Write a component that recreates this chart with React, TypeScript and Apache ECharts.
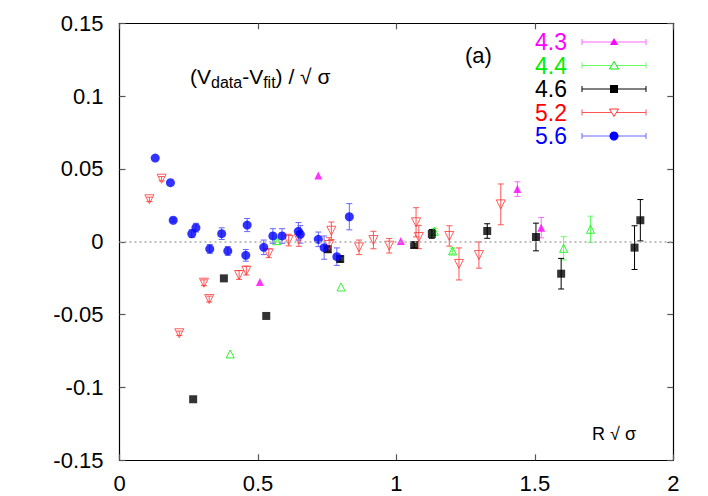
import React, { useEffect, useRef } from "react";
import * as echarts from "echarts";

// [R√σ, (Vdata-Vfit)/√σ, error]
const s43: number[][] = [
  [0.507, -0.0276, 0],
  [0.718, 0.0456, 0],
  [1.016, 0.0005, 0],
  [1.437, 0.0362, 0.005],
  [1.523, 0.0097, 0.007],
];
const s44: number[][] = [
  [0.4, -0.077, 0],
  [0.568, 0.0008, 0.001],
  [0.8, -0.031, 0],
  [1.137, 0.0072, 0.002],
  [1.203, -0.0063, 0.002],
  [1.604, -0.0045, 0.008],
  [1.701, 0.0086, 0.009],
];
const s46: number[][] = [
  [0.266, -0.1081, 0],
  [0.377, -0.0251, 0],
  [0.53, -0.0509, 0],
  [0.752, -0.0051, 0.002],
  [0.797, -0.0118, 0.002],
  [1.064, -0.0022, 0.002],
  [1.128, 0.0054, 0.003],
  [1.328, 0.0074, 0.005],
  [1.504, 0.0033, 0.0095],
  [1.595, -0.0219, 0.0105],
  [1.86, -0.004, 0.015],
  [1.881, 0.0148, 0.0142],
];
const s52: number[][] = [
  [0.108, 0.0292, 0.0015],
  [0.152, 0.0433, 0.0015],
  [0.216, -0.0628, 0.0015],
  [0.305, -0.0281, 0.002],
  [0.324, -0.0393, 0.002],
  [0.432, -0.0228, 0.003],
  [0.458, -0.0198, 0.003],
  [0.539, -0.0079, 0.003],
  [0.611, 0.0012, 0.004],
  [0.648, 0.0019, 0.005],
  [0.757, -0.0022, 0.005],
  [0.765, 0.0076, 0.006],
  [0.865, -0.0038, 0.005],
  [0.917, 0.0012, 0.006],
  [0.974, -0.0027, 0.005],
  [1.071, 0.0134, 0.01],
  [1.081, 0.0033, 0.008],
  [1.191, 0.004, 0.007],
  [1.226, -0.0152, 0.011],
  [1.298, -0.0091, 0.009],
  [1.377, 0.0257, 0.014],
];
const s56: number[][] = [
  [0.129, 0.0575, 0],
  [0.184, 0.0406, 0],
  [0.194, 0.0148, 0.001],
  [0.261, 0.0056, 0.0027],
  [0.276, 0.0097, 0.003],
  [0.326, -0.0049, 0.003],
  [0.369, 0.0056, 0.004],
  [0.391, -0.0063, 0.003],
  [0.461, 0.0115, 0.0045],
  [0.456, -0.0093, 0.004],
  [0.521, -0.0038, 0.005],
  [0.554, 0.004, 0.005],
  [0.587, 0.004, 0.005],
  [0.646, 0.0072, 0.006],
  [0.653, 0.0051, 0.006],
  [0.718, 0.0017, 0.005],
  [0.739, -0.004, 0.008],
  [0.785, -0.0102, 0.006],
  [0.83, 0.0172, 0.009],
];

const legendLabels = ["4.3", "4.4", "4.6", "5.2", "5.6"];
const textColors = ["#ff00ff", "#00ee00", "#000000", "#ff0000", "#0000ff"];
const barColors = ["#ff66ff", "#66ff66", "#000000", "#ff5555", "#6666ff"];

const FONT = "Liberation Sans, Arial, Helvetica, sans-serif";
const invTri = "path://M0,0 L10,0 L5,9 Z";

export default function App() {
  const ref = useRef<HTMLDivElement>(null);
  useEffect(() => {
    if (!ref.current) return;
    const chart = echarts.init(ref.current, undefined, { renderer: "svg" });

    const errSeries = (data: number[][], color: string, width: number) => ({
      type: "custom",
      z: 2,
      silent: true,
      data: data.filter((d) => d[2] > 0),
      encode: { x: 0, y: 1 },
      renderItem: (_p: any, api: any) => {
        const x = api.value(0);
        const y = api.value(1);
        const e = api.value(2);
        const t = api.coord([x, y + e]);
        const b = api.coord([x, y - e]);
        const w = 3;
        const st = { stroke: color, lineWidth: width };
        return {
          type: "group",
          children: [
            { type: "line", shape: { x1: t[0], y1: t[1], x2: b[0], y2: b[1] }, style: st },
            { type: "line", shape: { x1: t[0] - w, y1: t[1], x2: t[0] + w, y2: t[1] }, style: st },
            { type: "line", shape: { x1: b[0] - w, y1: b[1], x2: b[0] + w, y2: b[1] }, style: st },
          ],
        };
      },
    });

    const sets = [s43, s44, s46, s52, s56];
    const symbols: any[] = [
      { symbol: "triangle", symbolSize: 8, itemStyle: { color: "#ff00ff" } },
      { symbol: "triangle", symbolSize: 8, itemStyle: { color: "rgba(255,255,255,0)", borderColor: "#00ee00", borderWidth: 1 } },
      { symbol: "rect", symbolSize: 8, itemStyle: { color: "#000000" } },
      { symbol: invTri, symbolSize: 9, itemStyle: { color: "rgba(255,255,255,0)", borderColor: "#ff3333", borderWidth: 1 } },
      { symbol: "circle", symbolSize: 9, itemStyle: { color: "#0000ff" } },
    ];

    const series: any[] = [];
    series.push({
      type: "line",
      data: [],
      silent: true,
      markLine: {
        silent: true,
        symbol: "none",
        label: { show: false },
        lineStyle: { color: "#aaaaaa", type: [2, 3], width: 1.5 },
        data: [{ yAxis: 0 }],
      },
    });
    sets.forEach((d, i) => {
      series.push(errSeries(d, barColors[i], 1));
    });
    sets.forEach((d, i) => {
      series.push({
        type: "scatter",
        z: 3,
        data: d.map((p) => [p[0], p[1]]),
        ...symbols[i],
      });
    });

    // legend graphics
    const legend: any[] = [];
    legendLabels.forEach((lab, i) => {
      const cy = 42 + 23.5 * i;
      legend.push({
        type: "text",
        x: 535,
        y: cy,
        style: { text: lab, fill: textColors[i], font: `23px ${FONT}`, textVerticalAlign: "middle", textAlign: "left" },
      });
      const st = { stroke: barColors[i], lineWidth: 1 };
      legend.push({ type: "line", shape: { x1: 582, y1: cy, x2: 646, y2: cy }, style: st });
      legend.push({ type: "line", shape: { x1: 582, y1: cy - 3, x2: 582, y2: cy + 3 }, style: st });
      legend.push({ type: "line", shape: { x1: 646, y1: cy - 3, x2: 646, y2: cy + 3 }, style: st });
      const mx = 614;
      if (i === 0) {
        legend.push({ type: "polygon", shape: { points: [[mx - 4, cy + 3], [mx + 4, cy + 3], [mx, cy - 4]] }, style: { fill: "#ff00ff" } });
      } else if (i === 1) {
        legend.push({ type: "polygon", shape: { points: [[mx - 4.5, cy + 3.5], [mx + 4.5, cy + 3.5], [mx, cy - 4]] }, style: { fill: "#fff", stroke: "#00ee00", lineWidth: 1 } });
      } else if (i === 2) {
        legend.push({ type: "rect", shape: { x: mx - 4, y: cy - 4, width: 8, height: 8 }, style: { fill: "#000" } });
      } else if (i === 3) {
        legend.push({ type: "polygon", shape: { points: [[mx - 4.5, cy - 3.5], [mx + 4.5, cy - 3.5], [mx, cy + 4]] }, style: { fill: "#fff", stroke: "#ff3333", lineWidth: 1 } });
      } else {
        legend.push({ type: "circle", shape: { cx: mx, cy: cy, r: 4.5 }, style: { fill: "#0000ff" } });
      }
    });

    const axisBase = {
      type: "value",
      axisLine: { show: true, onZero: false, lineStyle: { color: "#000", width: 1.2 } },
      axisTick: { show: true, inside: true, length: 6, lineStyle: { color: "#555", width: 1.2 } },
      splitLine: { show: false },
    };
    const labelStyle = { color: "#000", fontSize: 22, fontFamily: FONT };

    chart.setOption({
      animation: false,
      backgroundColor: "#ffffff",
      grid: { left: 119.5, right: 34.7, top: 23.3, bottom: 35.7, containLabel: false },
      xAxis: [
        { ...axisBase, min: 0, max: 2, interval: 0.5, position: "bottom", axisLabel: { ...labelStyle, margin: 12 } },
        { ...axisBase, min: 0, max: 2, interval: 0.5, position: "top", axisLabel: { show: false } },
      ],
      yAxis: [
        { ...axisBase, min: -0.15, max: 0.15, interval: 0.05, position: "left", axisLabel: { ...labelStyle, margin: 16, formatter: (v: number) => String(Math.round(v * 100) / 100) } },
        { ...axisBase, min: -0.15, max: 0.15, interval: 0.05, position: "right", axisLabel: { show: false } },
      ],
      series,
      graphic: [
        {
          type: "text",
          x: 190,
          y: 76,
          style: {
            text: "(V{sub|data}-V{sub|fit}) / √ σ",
            font: `21px ${FONT}`,
            fill: "#000",
            textVerticalAlign: "middle",
            rich: {
              sub: { fontSize: 16, fontFamily: FONT, verticalAlign: "bottom", lineHeight: 28, padding: [10, 0, 0, 0] },
            },
          },
        },
        { type: "text", x: 465, y: 55, style: { text: "(a)", font: `22px ${FONT}`, fill: "#000", textVerticalAlign: "middle" } },
        { type: "text", x: 592, y: 434, style: { text: "R √ σ", font: `18px ${FONT}`, fill: "#000", textVerticalAlign: "middle" } },
        ...legend,
      ],
    });
    return () => chart.dispose();
  }, []);
  return <div ref={ref} style={{ position: "absolute", left: 0, top: 0, width: 708, height: 496 }} />;
}
